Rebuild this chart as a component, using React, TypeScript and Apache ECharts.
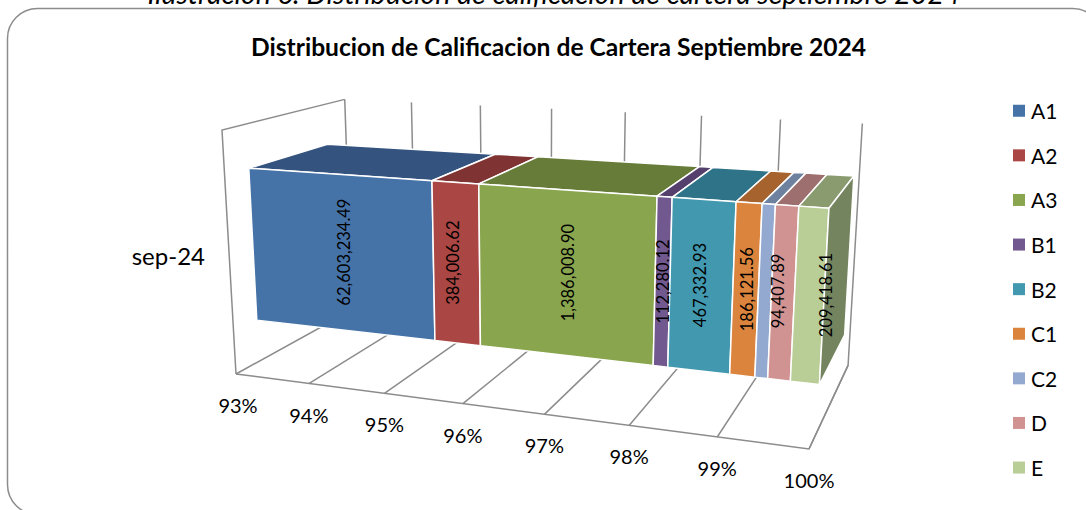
import React, { useEffect, useRef } from "react";
import * as echarts from "echarts";

const ratings = ["A1", "A2", "A3", "B1", "B2", "C1", "C2", "D", "E"];
// Saldo by rating; D carries no visible label in the reference, its value is estimated from its width.
const balances = [62603234.49, 384006.62, 1386008.9, 112280.12, 467332.93, 186121.56, 94407.89, 165000, 209418.61];
const valueLabels = ["62,603,234.49", "384,006.62", "1,386,008.90", "112,280.12", "467,332.93", "186,121.56", "94,407.89", "", "209,418.61"];
const labelNudge = [3, -3, 2, 0, -1, 1, 13, 0, 17];
const frontColors = ["#4572A7", "#AA4643", "#89A54E", "#71588F", "#4198AF", "#DB843D", "#93A9CF", "#D19392", "#B9CD96"];
const topColors = ["#34547F", "#7F3332", "#677C39", "#553F6D", "#2E7387", "#A6632D", "#6E819F", "#9E6F6F", "#8B9B70"];
const sideColor = "#74845E";
const axisTicks = [0.93, 0.94, 0.95, 0.96, 0.97, 0.98, 0.99, 1];
const axisTickLabels = ["93%", "94%", "95%", "96%", "97%", "98%", "99%", "100%"];
const category = "sep-24";
const chartTitle = "Distribucion de Calificacion de Cartera Septiembre 2024";
const caption = "Ilustración 6: Distribución de calificación de cartera septiembre 2024";

const FONT = "Lato, Carlito, sans-serif";
const GRID_LEFT = 236;
const GRID_RIGHT_X = 809;
const GRID_TOP = 63;
const GRID_H = 384;

// Projective camera of the 3-D box: u along the value axis, h height, d depth (all 0..1)
const O = [236, 374];
const AX = [809, 449];
const AY = [222, 130];
const AZ = [352, 310];
const WX = 0.874;
const WY = 0.955;
const WZ = 1.165;
const SKEW_Y = 7;
function project(u: number, h: number, d: number): number[] {
  const o = 1 - u - h - d;
  const a = u * WX;
  const b = h * WY;
  const c = d * WZ;
  const w = o + a + b + c;
  return [
    (o * O[0] + a * AX[0] + b * AY[0] + c * AZ[0]) / w,
    (o * O[1] + a * AX[1] + b * AY[1] + c * AZ[1]) / w - SKEW_Y * u * h,
  ];
}

const BAR_LOW = 0.18;
const BAR_HIGH = 0.82;
const BAR_FRONT = 0.175;
const BAR_BACK = 0.825;

const total = balances.reduce((s, v) => s + v, 0);
const cumulative: number[][] = [];
{
  let run = 0;
  balances.forEach((v) => {
    cumulative.push([run / total, (run + v) / total]);
    run += v;
  });
}
const shareRanges = cumulative.map(([a, b]) => [Math.max(a, 0.93), b]);

export default function App() {
  const ref = useRef<HTMLDivElement>(null);
  useEffect(() => {
    document.body.style.margin = "0";
    const chart = echarts.init(ref.current!, undefined, { renderer: "svg" });

    const unit = (api: any, params: any, v: number) => {
      const sys = params.coordSys;
      return (api.coord([v, 0])[0] - sys.x) / sys.width;
    };

    const frameLine = { stroke: "#8C8C8C", lineWidth: 1.5, fill: "none" };

    const frameSeries: any = {
      type: "custom",
      silent: true,
      z: 1,
      encode: { x: 0 },
      data: axisTicks.map((t, i) => [t, i]),
      renderItem: (params: any, api: any) => {
        const i = api.value(1);
        const u = unit(api, params, api.value(0));
        const children: any[] = [
          {
            type: "polyline",
            shape: { points: [project(u, 0, 0), project(u, 0, 1), project(u, 1, 1)] },
            style: frameLine,
          },
          {
            type: "text",
            x: project(u, 0, 0)[0] + (i === 0 ? 2 : 0),
            y: project(u, 0, 0)[1] + 31,
            style: {
              text: axisTickLabels[i],
              font: `20px ${FONT}`,
              fill: "#000",
              align: "center",
              verticalAlign: "middle",
            },
          },
        ];
        if (i === 0) {
          children.push({
            type: "polyline",
            shape: { points: [project(0, 0, 0), project(0, 1, 0), project(0, 1, 1)] },
            style: frameLine,
          });
          children.push({
            type: "polyline",
            shape: { points: [project(0, 0, 0), project(1, 0, 0), project(1, 0, 1)] },
            style: frameLine,
          });
        }
        return { type: "group", children };
      },
    };

    const edge = { stroke: "#FFFFFF", lineWidth: 1.5, lineJoin: "round" };

    const barSeries: any[] = ratings.map((name, i) => ({
      name,
      type: "custom",
      z: 2 + i,
      itemStyle: { color: frontColors[i] },
      encode: { x: [0, 1] },
      data: [shareRanges[i]],
      renderItem: (params: any, api: any) => {
        const u0 = unit(api, params, api.value(0));
        const u1 = unit(api, params, api.value(1));
        const children: any[] = [
          {
            type: "polygon",
            shape: {
              points: [
                project(u0, BAR_HIGH, BAR_FRONT),
                project(u1, BAR_HIGH, BAR_FRONT),
                project(u1, BAR_HIGH, BAR_BACK),
                project(u0, BAR_HIGH, BAR_BACK),
              ],
            },
            style: { fill: topColors[i], ...edge },
          },
          {
            type: "polygon",
            shape: {
              points: [
                project(u0, BAR_LOW, BAR_FRONT),
                project(u1, BAR_LOW, BAR_FRONT),
                project(u1, BAR_HIGH, BAR_FRONT),
                project(u0, BAR_HIGH, BAR_FRONT),
              ],
            },
            style: { fill: frontColors[i], ...edge },
          },
        ];
        if (i === ratings.length - 1) {
          children.push({
            type: "polygon",
            shape: {
              points: [
                project(u1, BAR_LOW, BAR_FRONT),
                project(u1, BAR_LOW, BAR_BACK),
                project(u1, BAR_HIGH, BAR_BACK),
                project(u1, BAR_HIGH, BAR_FRONT),
              ],
            },
            style: { fill: sideColor, ...edge },
          });
        }
        return { type: "group", children };
      },
    }));

    const labelSeries: any = {
      type: "custom",
      silent: true,
      z: 30,
      encode: { x: [0, 1] },
      data: shareRanges.map((r, i) => [r[0], r[1], i]),
      renderItem: (params: any, api: any) => {
        const i = api.value(2);
        if (!valueLabels[i]) return null;
        const u0 = unit(api, params, api.value(0));
        const u1 = unit(api, params, api.value(1));
        const c = project((u0 + u1) / 2, (BAR_LOW + BAR_HIGH) / 2 + 0.005, BAR_FRONT);
        return {
          type: "text",
          x: c[0] + labelNudge[i],
          y: c[1],
          rotation: Math.PI / 2,
          style: {
            text: valueLabels[i],
            font: `16.5px ${FONT}`,
            fill: "#000",
            align: "center",
            verticalAlign: "middle",
          },
        };
      },
    };

    chart.setOption({
      animation: false,
      backgroundColor: "#FFFFFF",
      title: {
        text: chartTitle,
        left: 553.5,
        top: 29,
        textAlign: "center",
        textStyle: { fontFamily: FONT, fontSize: 24.6, fontWeight: "bold", color: "#000" },
      },
      legend: {
        orient: "vertical",
        left: 1013,
        top: 99,
        padding: 0,
        icon: "rect",
        itemWidth: 12,
        itemHeight: 12,
        itemGap: 21.1,
        data: ratings,
        selectedMode: false,
        textStyle: { fontFamily: FONT, fontSize: 21, color: "#000", padding: [0, 0, 0, 1], lineHeight: 23.5 },
      },
      grid: { left: GRID_LEFT, width: GRID_RIGHT_X - GRID_LEFT, top: GRID_TOP, height: GRID_H },
      xAxis: { type: "value", min: 0.93, max: 1, show: false },
      yAxis: {
        type: "category",
        data: [category],
        axisLine: { show: false },
        axisTick: { show: false },
        splitLine: { show: false },
        axisLabel: { fontFamily: FONT, fontSize: 24, color: "#000", margin: 31 },
      },
      graphic: [
        {
          type: "rect",
          silent: true,
          z: -1,
          shape: { x: 7.5, y: 8.5, width: 1095, height: 506, r: 30 },
          style: { fill: "none", stroke: "#8C8C8C", lineWidth: 1.5 },
        },
        {
          type: "text",
          silent: true,
          x: 554,
          y: 7.5,
          style: {
            text: caption,
            font: `italic 28.5px ${FONT}`,
            fill: "#000",
            align: "center",
            verticalAlign: "bottom",
          },
        },
      ],
      series: [frameSeries, ...barSeries, labelSeries],
    });
    return () => chart.dispose();
  }, []);
  return <div ref={ref} style={{ width: 1086, height: 510 }} />;
}
